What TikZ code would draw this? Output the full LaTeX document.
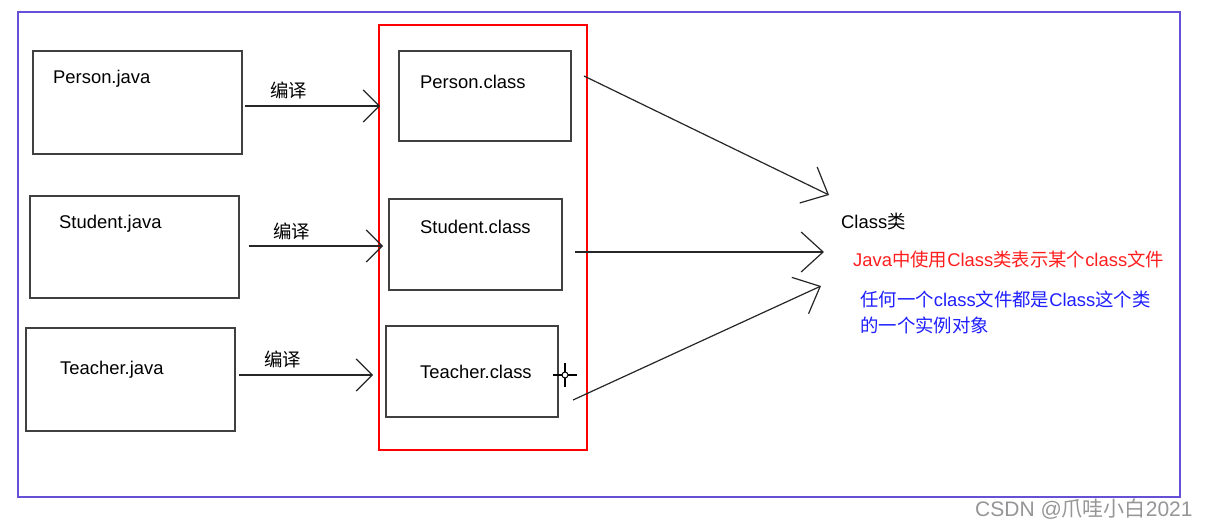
\documentclass[tikz,border=0pt]{standalone}
\usepackage{fontspec}
\setmainfont{Liberation Sans}
\newfontfamily\cjk{Noto Sans CJK SC}
\usetikzlibrary{arrows.meta}
\definecolor{outerblue}{RGB}{102,80,216}
\definecolor{boxgray}{RGB}{64,64,64}
\definecolor{txtblue}{RGB}{30,30,255}
\definecolor{txtred}{RGB}{255,30,30}
\definecolor{wmgray}{RGB}{150,150,150}
\tikzset{
  box/.style={draw=boxgray, line width=1.8pt, inner sep=0pt, outer sep=0pt},
  lbl/.style={anchor=base west, inner sep=0pt, font=\fontsize{18.4}{22}\selectfont},
  small/.style={draw=black!85, line width=1.2pt, -{Straight Barb[length=16pt,width=32pt,line width=1.2pt]}},
  big/.style={draw=black!85, line width=1.2pt, -{Straight Barb[length=22pt,width=40pt,line width=1.2pt]}},
}
\begin{document}
\begin{tikzpicture}[x=1pt,y=-1pt]
\useasboundingbox (0,0) rectangle (1209,526);
\fill[white] (0,0) rectangle (1209,526);
% frames
\draw[outerblue, line width=1.8pt] (18,12) rectangle (1180,497);
\node[draw=red, line width=1.1pt, inner sep=0pt, minimum width=208pt, minimum height=425pt] (red) at (483,237.5) {};
% java boxes
\node[box, minimum width=209pt, minimum height=103pt] (pj) at (137.5,102.5) {};
\node[box, minimum width=209pt, minimum height=102pt] (sj) at (134.5,247) {};
\node[box, minimum width=209pt, minimum height=103pt] (tj) at (130.5,379.5) {};
% class boxes
\node[box, minimum width=172pt, minimum height=90pt] (pc) at (485,96) {};
\node[box, minimum width=173pt, minimum height=91pt] (sc) at (475.5,244.5) {};
\node[box, minimum width=172pt, minimum height=91pt] (tc) at (472,371.5) {};
% texts
\node[lbl] (pjt) at (53,83.5) {Person.java};
\node[lbl] (sjt) at (59,228.5) {Student.java};
\node[lbl] (tjt) at (60,374.5) {Teacher.java};
\node[lbl] (pct) at (420,88.5) {Person.class};
\node[lbl] (sct) at (420,233.5) {Student.class};
\node[lbl] (tct) at (420,378.5) {Teacher.class};
\node[lbl] (c1) at (270,98) {\cjk 编译};
\node[lbl] (c2) at (273,239) {\cjk 编译};
\node[lbl] (c3) at (264,366) {\cjk 编译};
\node[lbl] (cls) at (841,229) {Class{\cjk 类}};
\node[lbl, text=txtred] (rt) at (853,267) {Java{\cjk 中使用}Class{\cjk 类表示某个}class{\cjk 文件}};
\node[lbl, text=txtblue] (bt1) at (860,307) {{\cjk 任何一个}class{\cjk 文件都是}Class{\cjk 这个类}};
\node[lbl, text=txtblue] (bt2) at (860,332) {\cjk 的一个实例对象};
\node[lbl, text=wmgray, font=\fontsize{21}{24}\selectfont] (wm) at (975,516) {CSDN @{\cjk 爪哇小白}2021};
% connector end points
\coordinate (a1s) at (245,106);
\coordinate (a1e) at (380,106);
\coordinate (a2s) at (249,246);
\coordinate (a2e) at (383,246);
\coordinate (a3s) at (239,375);
\coordinate (a3e) at (373,375);
\coordinate (b1s) at (584,76);
\coordinate (b1e) at (829,195);
\coordinate (b2s) at (575,252);
\coordinate (b2e) at (824,252);
\coordinate (b3s) at (573,400);
\coordinate (b3e) at (821,286);
\draw[small] (a1s) -- (a1e);
\draw[small] (a2s) -- (a2e);
\draw[small] (a3s) -- (a3e);
\draw[big] (b1s) -- (b1e);
\draw[big] (b2s) -- (b2e);
\draw[big] (b3s) -- (b3e);
% cursor
\draw[black, line width=1.2pt] (553,375) -- (577,375) (565,363) -- (565,387);
\draw[black, fill=white, line width=1pt] (565,375) circle (3);
\end{tikzpicture}
\end{document}
